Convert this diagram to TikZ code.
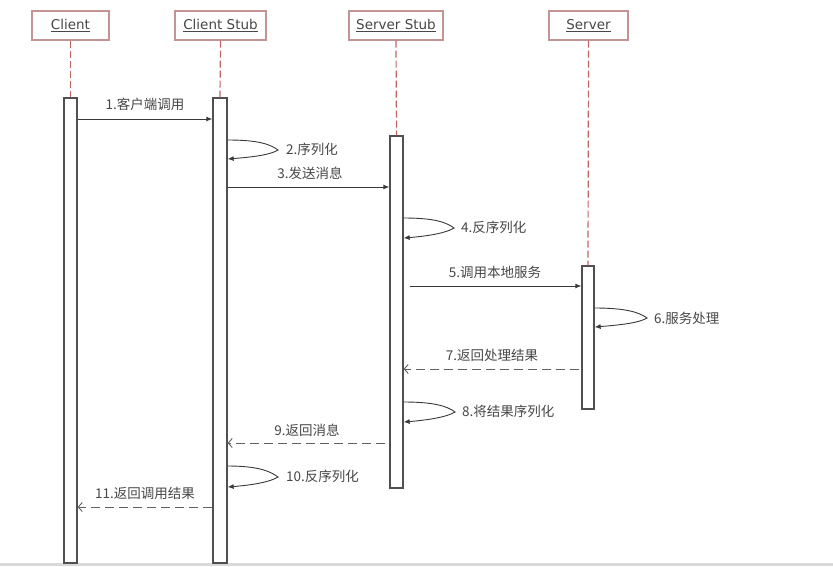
\documentclass[tikz,border=0pt]{standalone}
\usepackage{fontspec}
\setmainfont{DejaVu Sans}
\newfontfamily\cjk{Noto Sans CJK SC}
\usetikzlibrary{arrows.meta,calc}
\definecolor{hdrborder}{HTML}{C49494}
\definecolor{lifeln}{HTML}{C06464}
\definecolor{barln}{HTML}{505050}
\definecolor{txt}{HTML}{474747}
\definecolor{msg}{HTML}{3A3A3A}
\tikzset{
  hdr/.style={draw=hdrborder, line width=1.3pt, fill=white, inner sep=0pt, minimum height=29pt,
    font=\fontsize{13.5}{15}\selectfont, text=txt},
  life/.style={draw=lifeln, line width=1.2pt, dash pattern=on 7pt off 3pt},
  bar/.style={draw=barln, line width=1.3pt, fill=white, inner sep=0pt},
  call/.style={draw=msg, line width=0.9pt, -{Latex[length=6pt,width=5pt]}},
  ret/.style={draw=msg!80, line width=0.9pt, dash pattern=on 9pt off 5pt, -{Straight Barb[length=4pt,width=9pt]}},
  lbl/.style={font=\cjk\fontsize{13.5}{15}\selectfont, text=txt, inner sep=0pt},
}
\begin{document}
\begin{tikzpicture}[x=1pt,y=-1pt]
\useasboundingbox (0,0) rectangle (833,566);
\fill[white] (0,0) rectangle (833,566);
\fill[gray!30] (0,563) rectangle (833,566);

% headers
\node[hdr, minimum width=77pt] (hc) at (70.5,25.5) {\underline{Client}};
\node[hdr, minimum width=91pt] (hcs) at (220.5,25.5) {\underline{Client Stub}};
\node[hdr, minimum width=94pt] (hss) at (396,25.5) {\underline{Server Stub}};
\node[hdr, minimum width=79pt] (hs) at (588.5,25.5) {\underline{Server}};

% activation bars
\node[bar, minimum width=13pt, minimum height=465pt] (bc) at (70.5,330.5) {};
\node[bar, minimum width=14pt, minimum height=465pt] (bcs) at (220,330.5) {};
\node[bar, minimum width=13pt, minimum height=352pt] (bss) at (396.5,312) {};
\node[bar, minimum width=12pt, minimum height=143pt] (bs) at (588,337.5) {};

% lifelines
\draw[life] (hc.south) -- (bc.north);
\draw[life] (hcs.south) -- (bcs.north);
\draw[life] (hss.south) -- (bss.north);
\draw[life] (hs.south) -- (bs.north);

% 1
\draw[call] (bc.east |- 0,119) -- (bcs.west |- 0,119);
\node[lbl] (l1) at (145,104) {1.客户端调用};
% 2
\draw[call] (bcs.east |- 0,140) .. controls +(30,0) and +(-8,-6) .. (278,150) .. controls +(-8,5) and +(25,-2) .. (bcs.east |- 0,159);
\node[lbl, anchor=west] (l2) at (286,149) {2.序列化};
% 3
\draw[call] (bcs.east |- 0,187) -- (bss.west |- 0,187);
\node[lbl] (l3) at (310,173) {3.发送消息};
% 4
\draw[call] (bss.east |- 0,218) .. controls +(30,0) and +(-8,-6) .. (454,228) .. controls +(-8,5) and +(25,-2) .. (bss.east |- 0,238);
\node[lbl, anchor=west] (l4) at (461,227) {4.反序列化};
% 5
\draw[call] ($(bss.east |- 0,286)+(6,0)$) -- (bs.west |- 0,286);
\node[lbl] (l5) at (495,272) {5.调用本地服务};
% 6
\draw[call] (bs.east |- 0,308) .. controls +(30,0) and +(-8,-6) .. (647,318) .. controls +(-8,5) and +(25,-2) .. (bs.east |- 0,327);
\node[lbl, anchor=west] (l6) at (654,318) {6.服务处理};
% 7
\draw[ret] ($(bs.west |- 0,369)+(-2,0)$) -- (bss.east |- 0,369);
\node[lbl] (l7) at (492,355) {7.返回处理结果};
% 8
\draw[call] (bss.east |- 0,402) .. controls +(30,0) and +(-8,-6) .. (455,412) .. controls +(-8,5) and +(25,-2) .. (bss.east |- 0,422);
\node[lbl, anchor=west] (l8) at (462,411) {8.将结果序列化};
% 9
\draw[ret] ($(bss.west |- 0,443)+(-4,0)$) -- (bcs.east |- 0,443);
\node[lbl] (l9) at (307,430) {9.返回消息};
% 10
\draw[call] (bcs.east |- 0,466) .. controls +(30,0) and +(-8,-6) .. (278,477) .. controls +(-8,5) and +(25,-2) .. (bcs.east |- 0,487);
\node[lbl, anchor=west] (l10) at (286,476) {10.反序列化};
% 11
\draw[ret] (bcs.west |- 0,507) -- (bc.east |- 0,507);
\node[lbl] (l11) at (145,493) {11.返回调用结果};
\end{tikzpicture}
\end{document}
